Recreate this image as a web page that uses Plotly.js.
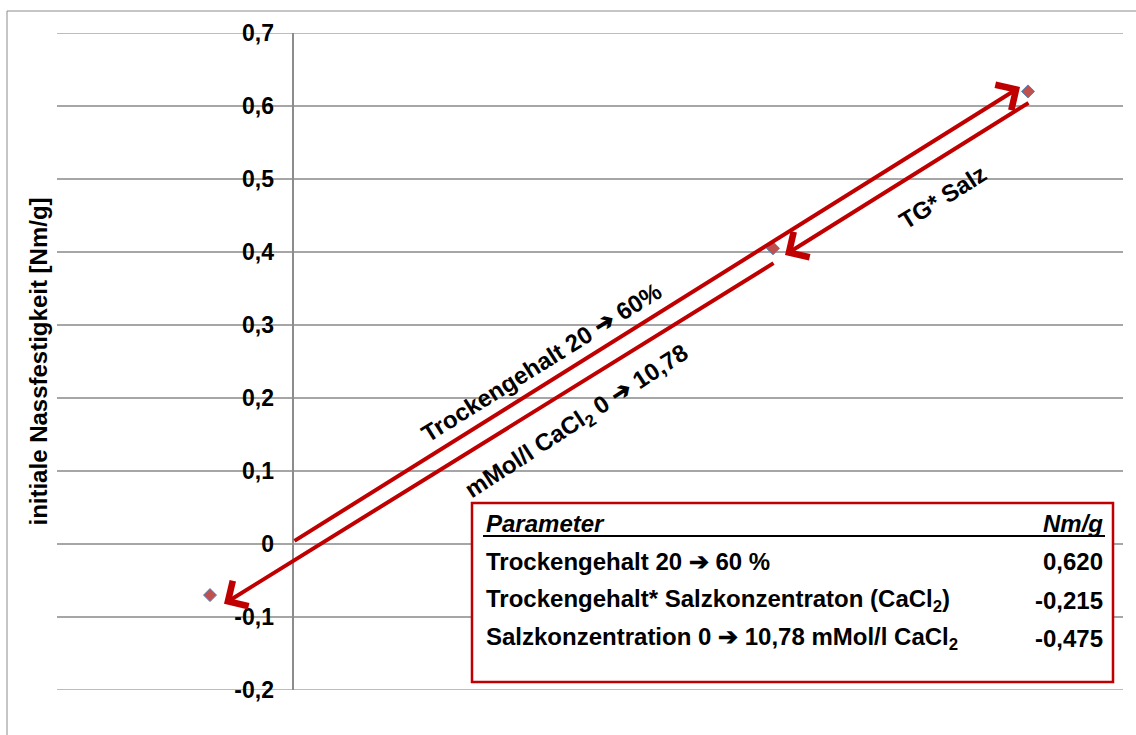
<!DOCTYPE html>
<html>
<head>
<meta charset="utf-8">
<script src="https://cdn.plot.ly/plotly-3.0.1.min.js"></script>
<style>
  html, body { margin: 0; padding: 0; background: #ffffff; }
  #chart { width: 1136px; height: 735px; }
</style>
</head>
<body>
<div id="chart"></div>
<script>
// ---- data ----
const pointX = [-0.83, 4.80, 7.35];
const pointY = [-0.07, 0.405, 0.62];
const yTickVals = [-0.2, -0.1, 0, 0.1, 0.2, 0.3, 0.4, 0.5, 0.6, 0.7];
const yTickText = ["-0,2", "-0,1", "0", "0,1", "0,2", "0,3", "0,4", "0,5", "0,6", "0,7"];
const yTitle = "initiale Nassfestigkeit [Nm/g]";
const arrowLabels = ["Trockengehalt 20 \u2794 60%", "mMol/l CaCl<sub>2</sub> 0 \u2794 10,78", "TG* Salz"];
const tableHeader = ["Parameter", "Nm/g"];
const tableParams = [
  "Trockengehalt 20 \u2794 60 %",
  "Trockengehalt* Salzkonzentraton (CaCl<sub>2</sub>)",
  "Salzkonzentration 0 \u2794 10,78 mMol/l CaCl<sub>2</sub>"
];
const tableValues = [0.620, -0.215, -0.475];

// ---- layout helpers ----
const W = 1136, H = 735;
const M = { l: 57, r: 13, t: 33, b: 45 };
const plotW = W - M.l - M.r, plotH = H - M.t - M.b;
const px2paperX = p => (p - M.l) / plotW;
const px2paperY = p => (H - M.b - p) / plotH;

const FONT = "Liberation Sans, Arial, sans-serif";
const RED = "#C00000";
const GRID = "#A6A6A6";

const fmt = v => v.toFixed(3).replace(".", ",");

const trace = {
  type: "scatter",
  mode: "markers",
  x: pointX,
  y: pointY,
  marker: { symbol: "diamond", size: 10, color: "#C0504D", line: { color: "#4F81BD", width: 1 } },
  hoverinfo: "skip",
  showlegend: false
};

// arrows derived from the data points
const p = pointX.map((x, i) => ({ x: x, y: pointY[i] }));
function arrow(tail, head) {
  return {
    x: head.x, y: head.y, ax: tail.x, ay: tail.y,
    xref: "x", yref: "y", axref: "x", ayref: "y",
    text: "", showarrow: true, arrowhead: 4, arrowsize: 1.45, arrowwidth: 4,
    arrowcolor: RED, standoff: 0, startstandoff: 0
  };
}
const arrows = [
  arrow({ x: 0, y: 0.003 }, { x: p[2].x - 0.08, y: p[2].y + 0.006 }),
  arrow({ x: p[2].x + 0.02, y: p[2].y - 0.0145 }, { x: p[1].x + 0.12, y: p[1].y - 0.009 }),
  arrow({ x: p[1].x + 0.02, y: p[1].y - 0.019 }, { x: p[0].x + 0.14, y: p[0].y - 0.012 })
];

const labelFont = { family: FONT, size: 24, color: "#000", weight: 700 };
const labels = [
  { x: 2.48, y: 0.248, text: arrowLabels[0], textangle: -32 },
  { x: 2.84, y: 0.167, text: arrowLabels[1], textangle: -33 },
  { x: 6.49, y: 0.475, text: arrowLabels[2], textangle: -32 }
].map(a => Object.assign({ xref: "x", yref: "y", showarrow: false, font: labelFont }, a));

// table
const tblFont = { family: FONT, size: 24, color: "#000", weight: 700 };
const tblLeft = px2paperX(484), tblRight = px2paperX(1105);
const rowY = [561, 600, 638];
const tableAnn = [
  { x: tblLeft, y: px2paperY(523), text: tableHeader[0], xanchor: "left", font: Object.assign({}, tblFont, { style: "italic" }) },
  { x: tblRight, y: px2paperY(523), text: tableHeader[1], xanchor: "right", font: Object.assign({}, tblFont, { style: "italic" }) }
];
tableParams.forEach((t, i) => {
  tableAnn.push({ x: tblLeft, y: px2paperY(rowY[i]), text: t, xanchor: "left", font: tblFont });
  tableAnn.push({ x: tblRight, y: px2paperY(rowY[i]), text: fmt(tableValues[i]), xanchor: "right", font: tblFont });
});
tableAnn.forEach(a => { a.xref = "paper"; a.yref = "paper"; a.showarrow = false; a.yanchor = "middle"; });

// edge gridlines (Plotly skips grid lines lying on the range edges)
const edgeVals = [Math.min(...yTickVals), Math.max(...yTickVals)];
const edgeGrid = edgeVals.map(v => ({
  type: "line", xref: "paper", yref: "y", x0: 0, x1: 1, y0: v, y1: v,
  line: { color: GRID, width: 1.5 }, layer: "below"
}));

const shapes = [
  // outer chart border (partly outside view)
  { type: "rect", xref: "paper", yref: "paper", x0: px2paperX(7), x1: px2paperX(1300), y0: px2paperY(900), y1: px2paperY(11),
    line: { color: "#8C8C8C", width: 1 }, fillcolor: "rgba(0,0,0,0)", layer: "below" }
].concat(edgeGrid).concat([
  // table box
  { type: "rect", xref: "paper", yref: "paper", x0: px2paperX(472), x1: px2paperX(1113), y0: px2paperY(682), y1: px2paperY(503),
    line: { color: RED, width: 2.5 }, fillcolor: "#ffffff", layer: "above" },
  // header underline
  { type: "line", xref: "paper", yref: "paper", x0: px2paperX(483), x1: px2paperX(1105), y0: px2paperY(536), y1: px2paperY(536),
    line: { color: "#000", width: 2 }, layer: "above" }
]);

const layout = {
  width: W, height: H,
  margin: M,
  paper_bgcolor: "#ffffff",
  plot_bgcolor: "#ffffff",
  showlegend: false,
  separators: ",.",
  xaxis: {
    range: [-2.36, 8.30],
    showgrid: false,
    zeroline: true, zerolinecolor: "#8C8C8C", zerolinewidth: 1.5,
    showticklabels: false, ticks: "", showline: false, fixedrange: true
  },
  yaxis: {
    range: [-0.2, 0.7],
    anchor: "free",
    position: px2paperX(293),
    tickvals: yTickVals, ticktext: yTickText,
    ticks: "", ticklabelstandoff: 19,
    tickfont: { family: FONT, size: 23, color: "#000", weight: 700 },
    showgrid: true, gridcolor: GRID, gridwidth: 1.5,
    zeroline: false, showline: false, fixedrange: true,
    title: { text: yTitle, font: { family: FONT, size: 24, color: "#000", weight: 700 }, standoff: 178 }
  },
  shapes: shapes,
  annotations: arrows.concat(labels).concat(tableAnn)
};

Plotly.newPlot("chart", [trace], layout, { displayModeBar: false, staticPlot: true });
</script>
</body>
</html>
